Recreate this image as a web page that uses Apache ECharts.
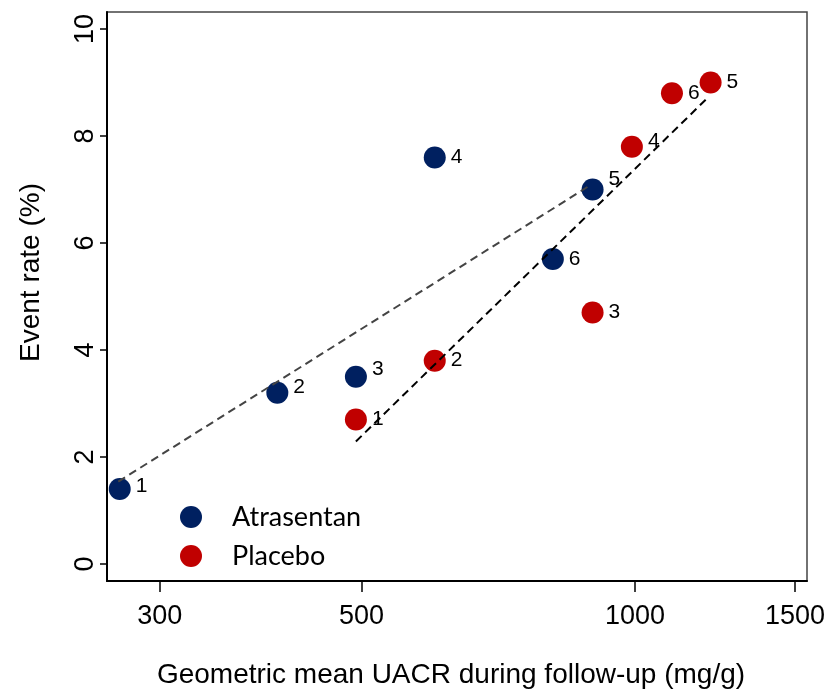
<!DOCTYPE html>
<html>
<head>
<meta charset="utf-8">
<script src="https://cdn.jsdelivr.net/npm/echarts@6/dist/echarts.min.js"></script>
<style>html,body{margin:0;padding:0;background:#fff}#c{width:840px;height:691px}</style>
</head>
<body>
<div id="c"></div>
<script>
// ---- data ----
const pointLabels = ['1', '2', '3', '4', '5', '6'];
const atrasentanUACR = [271, 404, 493, 602, 898, 812];
const atrasentanRate = [1.4, 3.2, 3.5, 7.6, 7.0, 5.7];
const placeboUACR = [493, 602, 898, 992, 1211, 1098];
const placeboRate = [2.7, 3.8, 4.7, 7.8, 9.0, 8.8];
const atrasentanFitX = [270, 887];
const atrasentanFitY = [1.54, 7.05];
const placeboFitX = [493, 1198];
const placeboFitY = [2.29, 8.69];
const xTicks = [300, 500, 1000, 1500];
const yTicks = [0, 2, 4, 6, 8, 10];

// ---- styling helpers (not data) ----
const labelNudgeAtr = {1: -3, 2: -6, 3: -8, 5: -10};
const labelNudgePla = {4: -6};

function points(xs, ys, nudge) {
  return xs.map((x, i) => {
    const item = { value: [x, ys[i]], name: pointLabels[i] };
    const dy = nudge[i + 1];
    if (dy) item.label = { offset: [0, dy] };
    return item;
  });
}
function pairs(xs, ys) { return xs.map((x, i) => [x, ys[i]]); }

const axisFont = 'Liberation Sans, Arial, sans-serif';
const chart = echarts.init(document.getElementById('c'), null, { renderer: 'canvas' });
const pointLabel = {
  show: true, position: 'right', distance: 5,
  formatter: p => p.name, fontSize: 21, color: '#000', fontFamily: axisFont
};
chart.setOption({
  animation: false,
  backgroundColor: '#fff',
  grid: { left: 107, top: 12, right: 33, bottom: 110, containLabel: false, outerBoundsMode: 'none',
          show: true, borderColor: '#444', borderWidth: 1.5, backgroundColor: 'transparent' },
  legend: {
    data: ['Atrasentan', 'Placebo'],
    orient: 'vertical', left: 175, top: 498,
    icon: 'circle', itemWidth: 22, itemHeight: 22, itemGap: 11,
    textStyle: { fontSize: 27, fontFamily: 'Lato, Calibri, sans-serif', color: '#000', padding: [0, 0, 0, 25], lineHeight: 28 }
  },
  xAxis: {
    type: 'log', logBase: 10, min: 262.4, max: 1546,
    name: 'Geometric mean UACR during follow-up (mg/g)',
    nameLocation: 'middle', nameGap: 80,
    nameTextStyle: { fontSize: 28, fontFamily: axisFont, color: '#000', padding: [0, 12, 0, 0] },
    axisLine: { show: true, onZero: false, lineStyle: { color: '#000', width: 2 } },
    axisTick: { show: true, customValues: xTicks, length: 11, lineStyle: { color: '#000', width: 1.5 } },
    axisLabel: { customValues: xTicks, formatter: v => String(Math.round(v)), fontSize: 27, fontFamily: axisFont, color: '#000', margin: 22 },
    splitLine: { show: false },
    minorTick: { show: false }
  },
  yAxis: {
    type: 'value', min: -0.318, max: 10.318,
    name: 'Event rate (%)',
    nameLocation: 'middle', nameRotate: 90, nameGap: 62,
    nameTextStyle: { fontSize: 28, fontFamily: axisFont, color: '#000', padding: [0, 0, 0, 48] },
    axisLine: { show: true, onZero: false, lineStyle: { color: '#000', width: 2 } },
    axisTick: { show: true, customValues: yTicks, length: 7, lineStyle: { color: '#000', width: 1.5 } },
    axisLabel: { customValues: yTicks, rotate: 90, fontSize: 27, fontFamily: axisFont, color: '#000', margin: 8 },
    splitLine: { show: false }
  },
  series: [
    {
      name: 'Atrasentan', type: 'scatter', symbol: 'circle', symbolSize: 22,
      itemStyle: { color: '#002060', opacity: 1 },
      label: pointLabel,
      data: points(atrasentanUACR, atrasentanRate, labelNudgeAtr), z: 2
    },
    {
      name: 'Placebo', type: 'scatter', symbol: 'circle', symbolSize: 22,
      itemStyle: { color: '#C00000', opacity: 1 },
      label: pointLabel,
      data: points(placeboUACR, placeboRate, labelNudgePla), z: 2
    },
    {
      name: 'Atrasentan fit', type: 'line', showSymbol: false, symbol: 'none',
      lineStyle: { color: '#444', width: 2, type: [8, 5] },
      data: pairs(atrasentanFitX, atrasentanFitY), z: 5, silent: true
    },
    {
      name: 'Placebo fit', type: 'line', showSymbol: false, symbol: 'none',
      lineStyle: { color: '#000', width: 2, type: [8, 5] },
      data: pairs(placeboFitX, placeboFitY), z: 5, silent: true
    }
  ]
});
</script>
</body>
</html>
